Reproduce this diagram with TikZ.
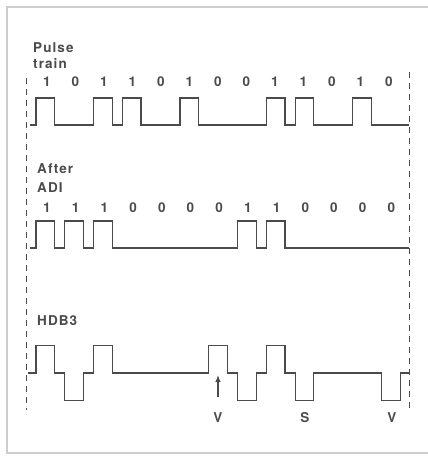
\documentclass[tikz,border=0pt]{standalone}
\usepackage{fontspec}
\setmainfont{TeX Gyre Heros}[LetterSpace=8]
\usetikzlibrary{arrows.meta}
\definecolor{ink}{RGB}{75,75,75}
\definecolor{framec}{RGB}{205,205,205}
\begin{document}
\begin{tikzpicture}[x=1pt,y=-1pt,
  wave/.style={draw=ink, line width=1.2pt, line join=miter},
  lbl/.style={text=ink, font=\fontsize{13.5}{15}\selectfont\bfseries, inner sep=0pt, anchor=base west},
  bitlbl/.style={text=ink, font=\fontsize{13.5}{15}\selectfont\bfseries, inner sep=0pt, anchor=base},
  guide/.style={draw=ink, line width=0.9pt, dash pattern=on 6pt off 5pt},
  framebox/.style={draw=framec, line width=1.2pt}]
\useasboundingbox (0,0) rectangle (428,456);
\draw[framebox] (7,7) rectangle (434,453);

% guides
\coordinate (gl1) at (26,78);
\coordinate (gl2) at (26,410);
\coordinate (gr1) at (409,72);
\coordinate (gr2) at (409,410);
\draw[guide] (gl1) -- (gl2);
\draw[guide] (gr1) -- (gr2);

% Pulse train
\node[lbl] (t1) at (33,52) {Pulse};
\node[lbl] (t2) at (33,68) {train};
\foreach \b [count=\i from 0] in {1,0,1,1,0,1,0,0,1,1,0,1,0}
  \node[bitlbl] (pb\i) at ({47+\i*28.5},86) {\b};
\draw[wave] (30,125) \foreach \i in {0,2,3,5,8,9,11} { -- ({36+\i*28.8},125) -- ++(0,-27) -- ++(18.5,0) -- ++(0,27) } -- (409,125);

% After ADI
\node[lbl] (a1) at (37,173) {After};
\node[lbl] (a2) at (37,192) {ADI};
\foreach \b [count=\i from 0] in {1,1,1,0,0,0,0,1,1,0,0,0,0}
  \node[bitlbl] (ab\i) at ({47+\i*28.7},212) {\b};
\draw[wave] (30,248) \foreach \i in {0,1,2,7,8} { -- ({36+\i*28.8},248) -- ++(0,-27) -- ++(18.5,0) -- ++(0,27) } -- (409,248);

% HDB3
\node[lbl] (h1) at (37,325) {HDB3};
\draw[wave] (28,373) \foreach \i/\s in {0/1,1/-1,2/1,6/1,7/-1,8/1,9/-1,12/-1} { -- ({36+\i*28.8},373) -- ++(0,{-\s*27.5}) -- ++(18.5,0) -- ++(0,{\s*27.5}) } -- (409,373);

\coordinate (vt) at (218,397);
\coordinate (vh) at (218,375);
\draw[draw=ink, line width=1.2pt, -{Latex[length=7pt,width=5.5pt]}] (vt) -- (vh);
\node[bitlbl] (v1) at (218,422) {V};
\node[bitlbl] (s1) at (305,422) {S};
\node[bitlbl] (v2) at (392,422) {V};
\end{tikzpicture}
\end{document}
